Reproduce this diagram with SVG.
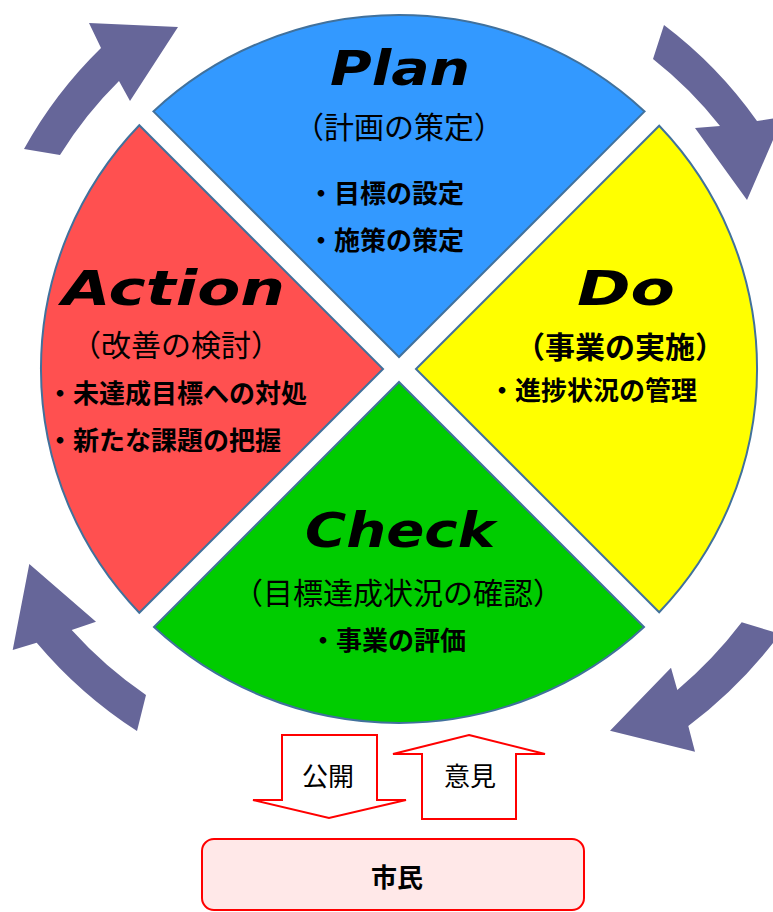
<svg xmlns="http://www.w3.org/2000/svg" width="773" height="912" viewBox="0 0 773 912">
<style>
.sec{stroke:#41719C;stroke-width:2;stroke-linejoin:miter}
.arw{fill:#666699}
.ttl{font-family:"DejaVu Sans",sans-serif;font-weight:bold;font-style:italic;font-size:48px;fill:#000}
.sub{font-family:"Noto Sans CJK JP",sans-serif;font-size:30px;fill:#000}
.bul{font-family:"Noto Sans CJK JP",sans-serif;font-size:26px;font-weight:bold;fill:#000}
.blk{fill:#fff;stroke:#FF0000;stroke-width:2}
.lbl{font-family:"Noto Sans CJK JP",sans-serif;font-size:26px;fill:#000;text-anchor:middle}
</style>
<g id="connectors">
<path class="arw" d="M 24,149 A 436 436 0 0 1 101,48 L 89,23 L 178,27 L 130,101 L 119,81 A 401 401 0 0 0 60,155 Z"/>
<path class="arw" d="M 664,25 A 434 434 0 0 1 757,121 L 783,117 L 747,200 L 695,128 L 720,126 A 402 402 0 0 0 653,59 Z"/>
<path class="arw" d="M 780,634 A 460 460 0 0 1 688.3,726 L 695,751.7 L 610,730.7 L 671,667.7 L 677.3,690 A 425 425 0 0 0 741.7,622.3 Z"/>
<path class="arw" d="M 137,731 A 450 450 0 0 1 36.7,642.7 L 12.7,650 L 29.3,564 L 96,621.7 L 71.7,630 A 416 416 0 0 0 146,695 Z"/>
</g>
<g id="plan">
<path class="sec" fill="#3399FF" d="M 399,357 L 153.4,111.4 A 358 354 0 0 1 644.6,111.4 Z"/>
<text class="ttl" x="330" y="85" textLength="140" lengthAdjust="spacingAndGlyphs">Plan</text>
<text class="sub" x="399" y="138" text-anchor="middle">（計画の策定）</text>
<text class="bul" x="308" y="203">・目標の設定</text>
<text class="bul" x="308" y="250">・施策の策定</text>
</g>
<g id="do">
<path class="sec" fill="#FFFF00" d="M 416,369 L 659.2,125.8 A 358 354 0 0 1 659.2,612.2 Z"/>
<text class="ttl" x="577" y="305" textLength="98" lengthAdjust="spacingAndGlyphs">Do</text>
<text class="sub" x="620" y="358" text-anchor="middle" font-weight="bold">（事業の実施）</text>
<text class="bul" x="489" y="400">・進捗状況の管理</text>
</g>
<g id="check">
<path class="sec" fill="#00CC00" d="M 399,382 L 644,627 A 358 354 0 0 1 154,627 Z"/>
<text class="ttl" x="305" y="547" textLength="190" lengthAdjust="spacingAndGlyphs">Check</text>
<text class="sub" x="398" y="604" text-anchor="middle">（目標達成状況の確認）</text>
<text class="bul" x="310" y="650">・事業の評価</text>
</g>
<g id="action">
<path class="sec" fill="#FF5050" d="M 383,369 L 139.3,612.7 A 358 354 0 0 1 139.3,125.3 Z"/>
<text class="ttl" x="62" y="305" textLength="223" lengthAdjust="spacingAndGlyphs">Action</text>
<text class="sub" x="176" y="356" text-anchor="middle">（改善の検討）</text>
<text class="bul" x="47" y="403">・未達成目標への対処</text>
<text class="bul" x="47" y="450">・新たな課題の把握</text>
</g>
<g id="kokai">
<path class="blk" d="M 282,735 L 377,735 L 377,800 L 406,800 L 329,818 L 253,800 L 282,800 Z"/>
<text class="lbl" x="328" y="786">公開</text>
</g>
<g id="iken">
<path class="blk" d="M 469,735 L 545,754 L 516,754 L 516,819 L 422,819 L 422,754 L 393,754 Z"/>
<text class="lbl" x="470" y="786">意見</text>
</g>
<g id="shimin">
<rect x="202" y="839" width="382" height="71" rx="12" ry="12" fill="#FFE8E8" stroke="#FF0000" stroke-width="2"/>
<text class="lbl" x="397" y="887" font-size="28" font-weight="bold">市民</text>
</g>
</svg>
